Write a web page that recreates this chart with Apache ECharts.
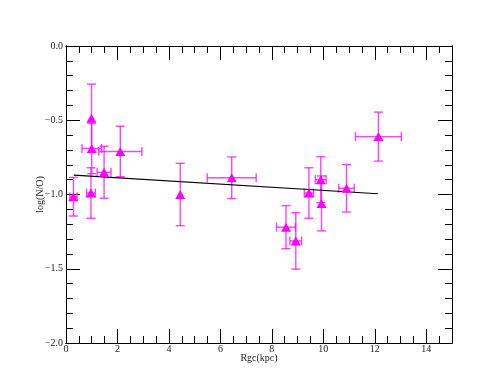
<!DOCTYPE html>
<html lang="en">
<head>
    <meta charset="UTF-8">
    <title>log(N/O) vs Rgc</title>
    <style>
        html, body { margin: 0; padding: 0; background: #fff; }
        #echart { width: 491px; height: 392px; }
    </style>
</head>
<body>
<div id="echart"></div>
<script src="https://cdn.jsdelivr.net/npm/echarts@6/dist/echarts.min.js"></script>
<script>
    // data
    const rgc   = [0.29, 0.97, 0.99, 1.0, 1.48, 2.11, 4.44, 6.44, 8.55, 8.93, 9.44, 9.9, 9.93, 10.9, 12.14]
    const logNO = [-1.015, -0.99, -0.487, -0.69, -0.85, -0.71, -1.0, -0.887, -1.22, -1.313, -0.99, -0.9, -1.06, -0.958, -0.61]
    const xErr  = [0.14, 0.17, 0, 0.38, 0.27, 0.84, 0, 0.95, 0.37, 0.23, 0.18, 0.21, 0, 0.3, 0.89]
    const yErr  = [0.13, 0.17, 0.23, 0.17, 0.175, 0.17, 0.21, 0.14, 0.145, 0.19, 0.17, 0.155, 0.185, 0.16, 0.165]
    // linear fit
    const fitX = [0.3, 12.12]
    const fitY = [-0.87, -0.995]

    const xTicks = [0, 2, 4, 6, 8, 10, 12, 14]
    const yTicks = [0, -0.5, -1.0, -1.5, -2.0]

    const magenta = '#ff00ff'
    const font = { fontFamily: 'Liberation Serif', fontSize: 10, color: '#222' }

    const fmtY = v => (v < 0 ? '\u2212' : '') + Math.abs(v).toFixed(1)

    // one axis with long ticks (and maybe labels), one with short ticks
    function xAx(pos, step, len, labels) {
        return {
            type: 'value', position: pos, min: 0, max: 15, interval: step,
            axisLine: { show: true, onZero: false, lineStyle: { color: '#000', width: 1 } },
            axisTick: { show: true, inside: true, length: len, lineStyle: { color: '#000' } },
            axisLabel: labels ? Object.assign({ show: true, margin: 1,
                customValues: xTicks }, font) : { show: false },
            splitLine: { show: false }
        }
    }
    function yAx(pos, step, len, labels) {
        return {
            type: 'value', position: pos, min: -2, max: 0, interval: step,
            axisLine: { show: true, onZero: false, lineStyle: { color: '#000', width: 1 } },
            axisTick: { show: true, inside: true, length: len, lineStyle: { color: '#000' } },
            axisLabel: labels ? Object.assign({ show: true, margin: 3, formatter: fmtY,
                customValues: yTicks }, font) : { show: false },
            splitLine: { show: false }
        }
    }

    const xAxes = [
        Object.assign(xAx('bottom', 2, 14, true), {
            name: 'Rgc(kpc)', nameLocation: 'middle', nameGap: 10, nameMoveOverlap: false,
            nameTextStyle: Object.assign({}, font, { verticalAlign: 'top' })
        }),
        xAx('bottom', 0.5, 7, false),
        xAx('top', 2, 14, false),
        xAx('top', 0.5, 7, false)
    ]
    const yAxes = [
        Object.assign(yAx('left', 0.5, 14, true), {
            name: 'log(N/O)', nameLocation: 'middle', nameGap: 21, nameRotate: 90, nameMoveOverlap: false,
            nameTextStyle: Object.assign({}, font)
        }),
        yAx('left', 0.1, 7, false),
        yAx('right', 0.5, 14, false),
        yAx('right', 0.1, 7, false)
    ]

    const points = rgc.map((x, i) => [x, logNO[i], xErr[i], yErr[i]])

    const echart = echarts.init(document.getElementById('echart'))
    echart.setOption({
        animation: false,
        grid: { left: 66, right: 39, top: 46, bottom: 49 },
        xAxis: xAxes,
        yAxis: yAxes,
        series: [{
            type: 'custom',
            data: points,
            z: 2,
            renderItem: (params, api) => {
                const x = api.value(0), y = api.value(1)
                const dx = api.value(2), dy = api.value(3)
                const cap = 4.5
                const style = { stroke: magenta, lineWidth: 1.4, opacity: 0.75 }
                const kids = []
                if (dy > 0) {
                    const t = api.coord([x, y + dy]), b = api.coord([x, y - dy])
                    kids.push({ type: 'line', shape: { x1: t[0], y1: t[1], x2: b[0], y2: b[1] }, style })
                    kids.push({ type: 'line', shape: { x1: t[0] - cap, y1: t[1], x2: t[0] + cap, y2: t[1] }, style })
                    kids.push({ type: 'line', shape: { x1: b[0] - cap, y1: b[1], x2: b[0] + cap, y2: b[1] }, style })
                }
                if (dx > 0) {
                    const l = api.coord([x - dx, y]), r = api.coord([x + dx, y])
                    kids.push({ type: 'line', shape: { x1: l[0], y1: l[1], x2: r[0], y2: r[1] }, style })
                    kids.push({ type: 'line', shape: { x1: l[0], y1: l[1] - cap, x2: l[0], y2: l[1] + cap }, style })
                    kids.push({ type: 'line', shape: { x1: r[0], y1: r[1] - cap, x2: r[0], y2: r[1] + cap }, style })
                }
                return { type: 'group', children: kids }
            }
        }, {
            type: 'line',
            data: fitX.map((x, i) => [x, fitY[i]]),
            showSymbol: false,
            lineStyle: { color: '#000', width: 1.2 },
            z: 3
        }, {
            type: 'scatter',
            data: points.map(p => [p[0], p[1]]),
            symbol: 'triangle',
            symbolSize: [10, 9],
            itemStyle: { color: magenta, opacity: 1 },
            z: 4
        }]
    })
</script>
</body>
</html>
